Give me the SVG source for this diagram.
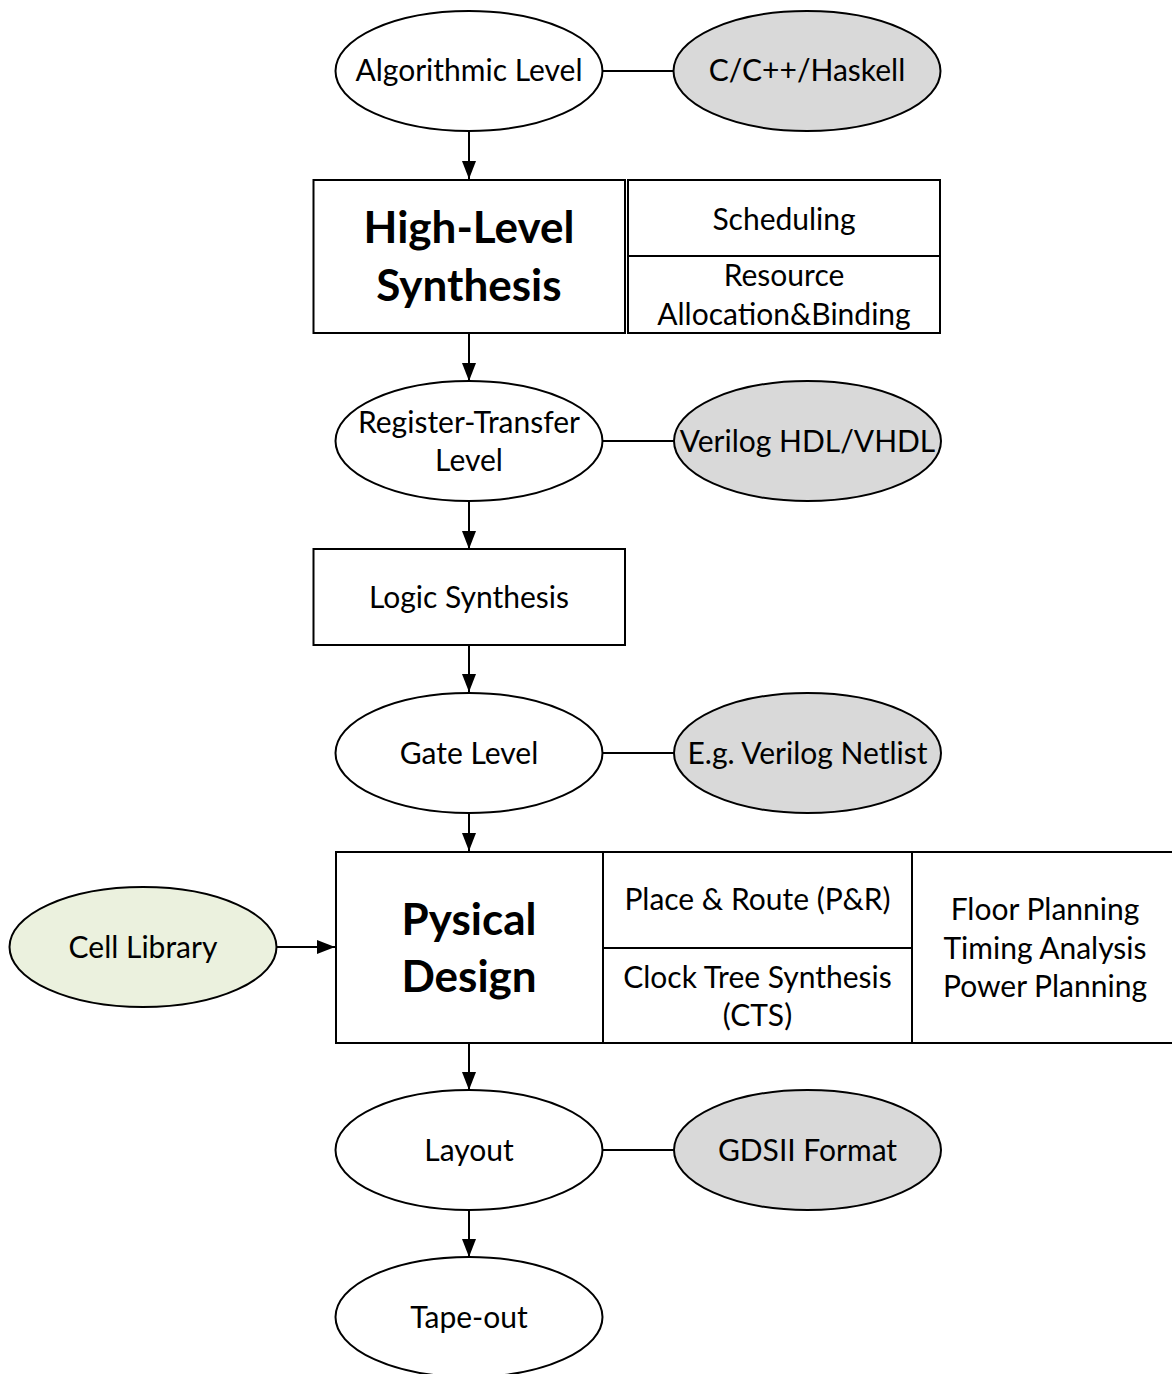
<svg xmlns="http://www.w3.org/2000/svg" width="1172" height="1374" viewBox="0 0 1172 1374">
  <style>
    .bg { fill: #ffffff; }
    .shape { stroke: #000000; stroke-width: 2; fill: #ffffff; }
    .gray { fill: #d9d9d9; }
    .green { fill: #ebf1de; }
    .edge { stroke: #000000; stroke-width: 2; fill: none; }
    text { font-family: Lato, "Liberation Sans", sans-serif; font-size: 30px; fill: #000000; text-anchor: middle; }
    .big { font-size: 44px; font-weight: bold; }
  </style>
  <defs>
    <marker id="arrow" markerUnits="userSpaceOnUse" markerWidth="18" markerHeight="15" refX="18" refY="7.5" orient="auto">
      <path d="M0,0.5 L18,7.5 L0,14.5 Z" fill="#000000"/>
    </marker>
  </defs>

  <rect class="bg" x="0" y="0" width="1172" height="1374"/>

  <!-- connectors -->
  <g id="connectors">
    <line class="edge" x1="469" y1="131" x2="469" y2="179" marker-end="url(#arrow)"/>
    <line class="edge" x1="469" y1="333" x2="469" y2="381" marker-end="url(#arrow)"/>
    <line class="edge" x1="469" y1="501" x2="469" y2="549" marker-end="url(#arrow)"/>
    <line class="edge" x1="469" y1="645" x2="469" y2="692" marker-end="url(#arrow)"/>
    <line class="edge" x1="469" y1="813" x2="469" y2="851" marker-end="url(#arrow)"/>
    <line class="edge" x1="469" y1="1043" x2="469" y2="1090" marker-end="url(#arrow)"/>
    <line class="edge" x1="469" y1="1210" x2="469" y2="1257" marker-end="url(#arrow)"/>
    <line class="edge" x1="277" y1="947" x2="335" y2="947" marker-end="url(#arrow)"/>
    <line class="edge" x1="603" y1="71" x2="673" y2="71"/>
    <line class="edge" x1="603" y1="441" x2="674" y2="441"/>
    <line class="edge" x1="603" y1="753" x2="674" y2="753"/>
    <line class="edge" x1="603" y1="1150" x2="674" y2="1150"/>
  </g>

  <!-- abstraction levels -->
  <g id="algorithmic-level">
    <ellipse class="shape" cx="469" cy="71" rx="133.5" ry="60"/>
    <text x="469" y="81">Algorithmic Level</text>
  </g>
  <g id="c-lang">
    <ellipse class="shape gray" cx="807" cy="71" rx="133.5" ry="60"/>
    <text x="807" y="81">C/C++/Haskell</text>
  </g>

  <g id="high-level-synthesis">
    <rect class="shape" x="313.5" y="180" width="311.5" height="153"/>
    <text class="big" x="469" y="243">High-Level</text>
    <text class="big" x="469" y="301">Synthesis</text>
  </g>
  <g id="hls-steps">
    <rect class="shape" x="628" y="180" width="312" height="153"/>
    <line class="edge" x1="628" y1="256" x2="940" y2="256"/>
    <text x="784" y="230">Scheduling</text>
    <text x="784" y="286">Resource</text>
    <text x="784" y="325">Allocation&amp;Binding</text>
  </g>

  <g id="rtl">
    <ellipse class="shape" cx="469" cy="441" rx="133.5" ry="60"/>
    <text x="469" y="433">Register-Transfer</text>
    <text x="469" y="471">Level</text>
  </g>
  <g id="hdl">
    <ellipse class="shape gray" cx="807.5" cy="441" rx="133.5" ry="60"/>
    <text x="807.5" y="452">Verilog HDL/VHDL</text>
  </g>

  <g id="logic-synthesis">
    <rect class="shape" x="313.5" y="549" width="311.5" height="96"/>
    <text x="469" y="608">Logic Synthesis</text>
  </g>

  <g id="gate-level">
    <ellipse class="shape" cx="469" cy="753" rx="133.5" ry="60"/>
    <text x="469" y="764">Gate Level</text>
  </g>
  <g id="netlist">
    <ellipse class="shape gray" cx="807.5" cy="753" rx="133.5" ry="60"/>
    <text x="807.5" y="764">E.g. Verilog Netlist</text>
  </g>

  <g id="cell-library">
    <ellipse class="shape green" cx="143" cy="947" rx="133.5" ry="60"/>
    <text x="143" y="958">Cell Library</text>
  </g>

  <g id="physical-design">
    <rect class="shape" x="336" y="852" width="267" height="191"/>
    <text class="big" x="469" y="935">Pysical</text>
    <text class="big" x="469" y="992">Design</text>
  </g>
  <g id="pd-steps">
    <rect class="shape" x="603" y="852" width="309" height="191"/>
    <line class="edge" x1="603" y1="948" x2="912" y2="948"/>
    <text x="757.5" y="910">Place &amp; Route (P&amp;R)</text>
    <text x="757.5" y="988">Clock Tree Synthesis</text>
    <text x="757.5" y="1026">(CTS)</text>
  </g>
  <g id="pd-tasks">
    <rect class="shape" x="912" y="852" width="262" height="191"/>
    <text x="1045" y="920">Floor Planning</text>
    <text x="1045" y="959">Timing Analysis</text>
    <text x="1045" y="997">Power Planning</text>
  </g>

  <g id="layout">
    <ellipse class="shape" cx="469" cy="1150" rx="133.5" ry="60"/>
    <text x="469" y="1161">Layout</text>
  </g>
  <g id="gdsii">
    <ellipse class="shape gray" cx="807.5" cy="1150" rx="133.5" ry="60"/>
    <text x="807.5" y="1161">GDSII Format</text>
  </g>

  <g id="tape-out">
    <ellipse class="shape" cx="469" cy="1317" rx="133.5" ry="60"/>
    <text x="469" y="1328">Tape-out</text>
  </g>
</svg>
